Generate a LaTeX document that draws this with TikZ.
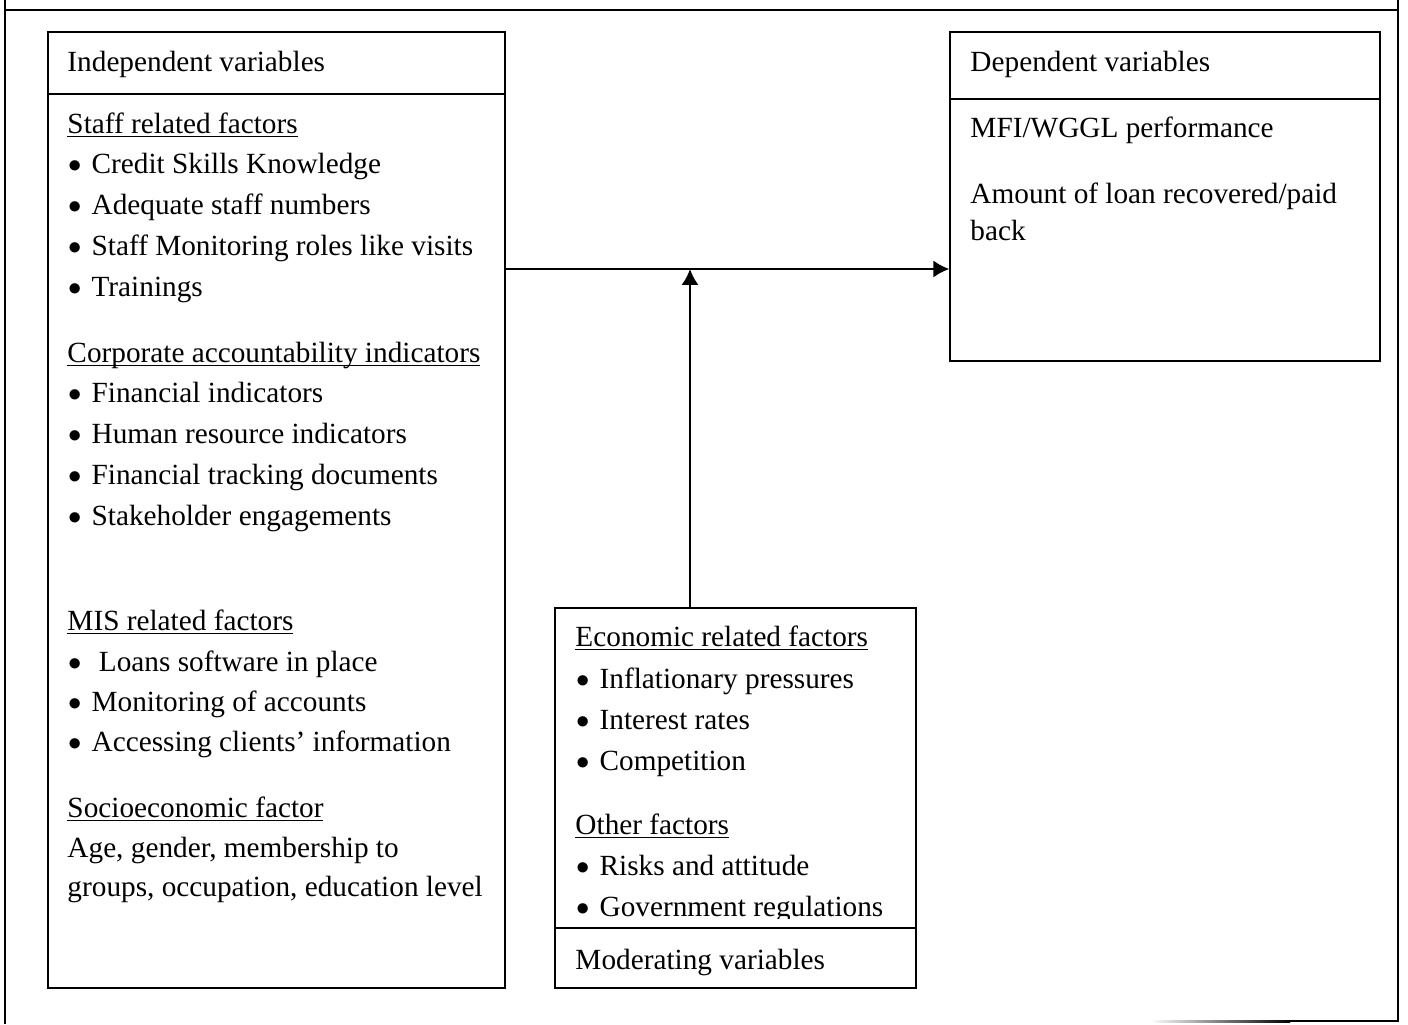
\documentclass[tikz,border=0pt]{standalone}
\usepackage{fontspec}
\setmainfont{Liberation Serif}
\usetikzlibrary{arrows.meta,fit}
\tikzstyle{txt}=[anchor=base west,inner sep=0pt,font=\fontsize{12}{14}\selectfont]
\tikzstyle{box}=[draw,line width=0.55pt,inner sep=0pt]
\tikzstyle{edge}=[draw,line width=0.9pt,-{Latex[length=6.5pt,width=7pt]}]
\tikzstyle{frame}=[draw,line width=0.9pt]
\newcommand{\bul}{\makebox[9.9pt][l]{\hspace{0.3pt}\raisebox{0.3pt}{\fontsize{11}{11}\selectfont$\bullet$}}}
\newcommand{\uln}[1]{\setbox0\hbox{#1}\rlap{\rule[-1.6pt]{\wd0}{0.55pt}}\box0}

\begin{document}
\begin{tikzpicture}[x=0.41pt,y=-0.41pt]
        \useasboundingbox (0,0) rectangle (1408,1024);
        % outer frame
        \draw[frame] (5,0) -- (5,1024);
        \draw[frame] (5,10) -- (1398,10);
        \draw[frame] (1398,0) -- (1398,1021) -- (1290,1021);
        \shade[left color=white,right color=black] (1150,1020) rectangle (1290,1022);
        % boxes
        \node[box,fit={(48,32) (505,988)}] (indep) {};
        \node[box,fit={(950,32) (1380,361)}] (dep) {};
        \node[box,fit={(555,608) (916,988)}] (moder) {};
        \draw[line width=0.55pt] (indep.west |- 0,94) -- (indep.east |- 0,94);
        \draw[line width=0.55pt] (dep.west |- 0,99) -- (dep.east |- 0,99);
        \draw[line width=0.55pt] (moder.west |- 0,928) -- (moder.east |- 0,928);
        % independent variables
        \foreach \y/\t [count=\i] in {71/Independent variables,
            133/\uln{Staff related factors},
            173/\bul Credit Skills Knowledge,
            214/\bul Adequate staff numbers,
            255/\bul Staff Monitoring roles like visits,
            296/\bul Trainings,
            362/\uln{Corporate accountability indicators},
            402/\bul Financial indicators,
            443/\bul Human resource indicators,
            484/\bul Financial tracking documents,
            525/\bul Stakeholder engagements,
            630/\uln{MIS related factors},
            671/\bul\ Loans software in place,
            711/\bul Monitoring of accounts,
            751/\bul Accessing clients’ information,
            817/\uln{Socioeconomic factor},
            857/{Age, gender, membership to},
            896/{groups, occupation, education level}}
          \node[txt] (ind\i) at (67,\y) {\t};
        % dependent variables
        \foreach \y/\t [count=\i] in {71/{Dependent variables},
            137/{MFI/WGGL performance},
            203/{Amount of loan recovered/paid},
            240/{back}}
          \node[txt] (dep\i) at (970,\y) {\t};
        % moderating variables
        \begin{scope}
          \clip (555,600) rectangle (916,918);
          \foreach \y/\t [count=\i] in {646/\uln{Economic related factors},
              688/\bul Inflationary pressures,
              729/\bul Interest rates,
              770/\bul Competition,
              834/\uln{Other factors},
              875/\bul Risks and attitude,
              916/\bul Government regulations}
            \node[txt] (mod\i) at (575,\y) {\t};
        \end{scope}
        \node[txt] (modlabel) at (575,969) {Moderating variables};
        % arrows
        \coordinate (join) at (690,269);
        \draw[edge] (indep.east |- join) -- (dep.west |- join);
        \draw[edge] (moder.north -| join) -- (join);
\end{tikzpicture}
\end{document}
